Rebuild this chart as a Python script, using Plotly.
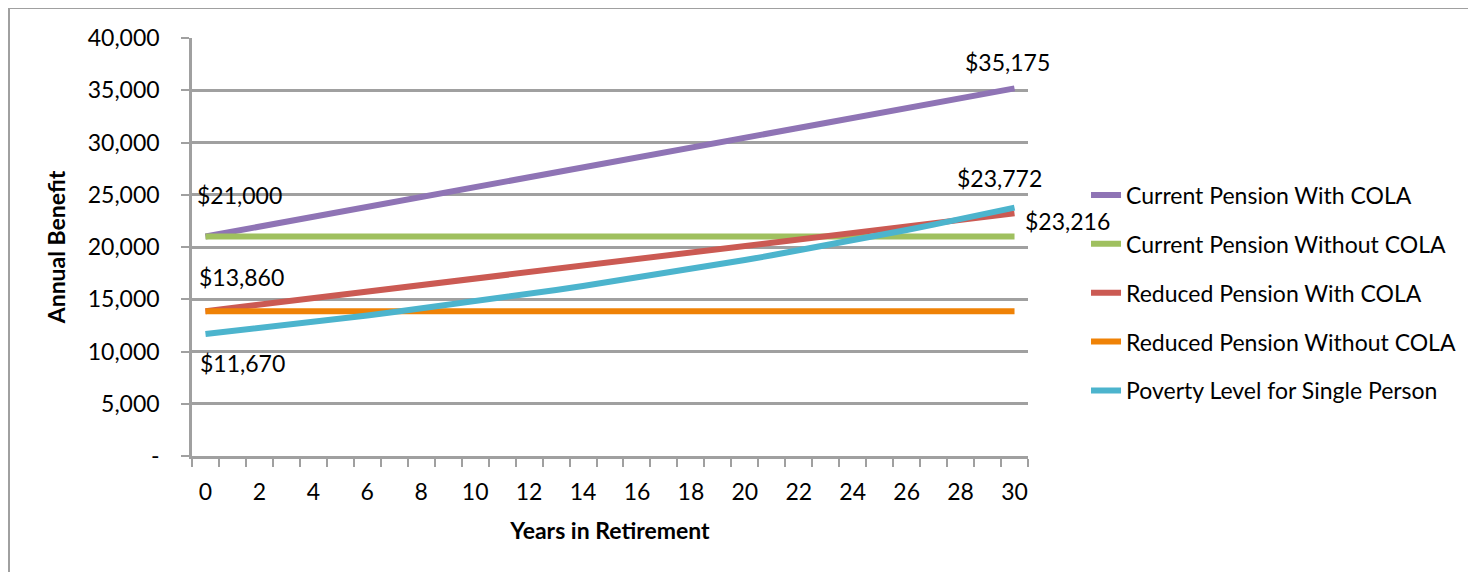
import plotly.graph_objects as go

years = list(range(0, 31))

current_with_cola = [21000, 21473, 21945, 22418, 22890, 23363, 23835, 24308, 24780, 25253,
                     25725, 26198, 26670, 27143, 27615, 28088, 28560, 29033, 29505, 29978,
                     30450, 30923, 31395, 31868, 32340, 32813, 33285, 33758, 34230, 34703, 35175]
current_without_cola = [21000] * 31
reduced_with_cola = [13860, 14172, 14484, 14796, 15107, 15419, 15731, 16043, 16355, 16667,
                     16979, 17290, 17602, 17914, 18226, 18538, 18850, 19161, 19473, 19785,
                     20097, 20409, 20721, 21033, 21344, 21656, 21968, 22280, 22592, 22904, 23216]
reduced_without_cola = [13860] * 31
poverty_level = [11670, 11950, 12237, 12531, 12831, 13139, 13455, 13778, 14108, 14447,
                 14793, 15149, 15512, 15884, 16266, 16656, 17056, 17465, 17884, 18313,
                 18753, 19203, 19664, 20136, 20619, 21114, 21621, 22140, 22671, 23215, 23772]

series_names = ["Current Pension With COLA", "Current Pension Without COLA",
                "Reduced Pension With COLA", "Reduced Pension Without COLA",
                "Poverty Level for Single Person"]
series_values = [current_with_cola, current_without_cola, reduced_with_cola,
                 reduced_without_cola, poverty_level]
series_colors = ["#8F74B5", "#9FC05F", "#CB5A53", "#EF8206", "#4CB4CD"]

x_tick_vals = list(range(0, 31, 2))
x_tick_text = [str(v) for v in x_tick_vals]
y_tick_vals = [0, 5000, 10000, 15000, 20000, 25000, 30000, 35000, 40000]
y_tick_text = ["-", "5,000", "10,000", "15,000", "20,000", "25,000", "30,000", "35,000", "40,000"]

# data labels: (year, value, text, xshift, yshift)
label_points = [
    (0, 21000, "$21,000", 34, 42),
    (0, 13860, "$13,860", 36, 34),
    (0, 11670, "$11,670", 37, -29),
    (30, 35175, "$35,175", -7, 26),
    (30, 23772, "$23,772", -15, 30),
    (30, 23216, "$23,216", 53, -8),
]

FONT = "Lato"
FS = 23
GRAY = "#A0A0A0"
PL, PT, PW, PH = 184, 30, 836, 418  # plot area in figure pixels

fig = go.Figure()
for name, vals, col in zip(series_names, series_values, series_colors):
    fig.add_trace(go.Scatter(x=years, y=vals, mode="lines", name=name,
                             legendgroup=name,
                             line=dict(color=col, width=6)))

for xv, yv, txt, xs, ys in label_points:
    fig.add_annotation(x=xv, y=yv, xref="x", yref="y", text=txt, showarrow=False,
                       xshift=xs, yshift=ys, font=dict(family=FONT, size=FS, color="#000000"))

fig.add_shape(type="rect", xref="paper", yref="paper",
              x0=(1 - PL) / PW, x1=1.8, y0=-0.6, y1=(PT + PH) / PH,
              line=dict(color=GRAY, width=2), fillcolor="rgba(0,0,0,0)", layer="below")

fig.update_layout(
    width=1476, height=572,
    margin=dict(l=PL, r=1476 - PL - PW, t=PT, b=572 - PT - PH, autoexpand=False),
    paper_bgcolor="white", plot_bgcolor="white",
    font=dict(family=FONT, size=FS, color="#000000"),
    showlegend=True,
    legend=dict(x=1.0694, xanchor="left", y=0.676, yanchor="top",
                font=dict(family=FONT, size=FS, color="#000000"),
                tracegroupgap=16, bgcolor="rgba(0,0,0,0)"),
    xaxis=dict(range=[-0.5, 30.5], tickmode="array", tickvals=x_tick_vals, ticktext=x_tick_text,
               ticks="", showgrid=False, zeroline=False,
               showline=True, linecolor=GRAY, linewidth=2.5,
               ticklabelstandoff=14,
               minor=dict(tickmode="array", tickvals=[v - 0.5 for v in range(0, 32)],
                          ticks="outside", ticklen=8, tickwidth=2, tickcolor=GRAY, showgrid=False),
               title=dict(text="<b>Years in Retirement</b>", standoff=19,
                          font=dict(family=FONT, size=FS)),
               tickfont=dict(family=FONT, size=FS)),
    yaxis=dict(range=[0, 40000], tickmode="array", tickvals=y_tick_vals, ticktext=y_tick_text,
               ticks="outside", ticklen=8, tickwidth=2, tickcolor=GRAY,
               showgrid=True, gridcolor=GRAY, gridwidth=2.5, zeroline=False,
               showline=True, linecolor=GRAY, linewidth=2.5,
               ticklabelstandoff=17,
               title=dict(text="<b>Annual Benefit</b>", standoff=16,
                          font=dict(family=FONT, size=FS)),
               tickfont=dict(family=FONT, size=FS)),
)

fig.write_html("out.html")
